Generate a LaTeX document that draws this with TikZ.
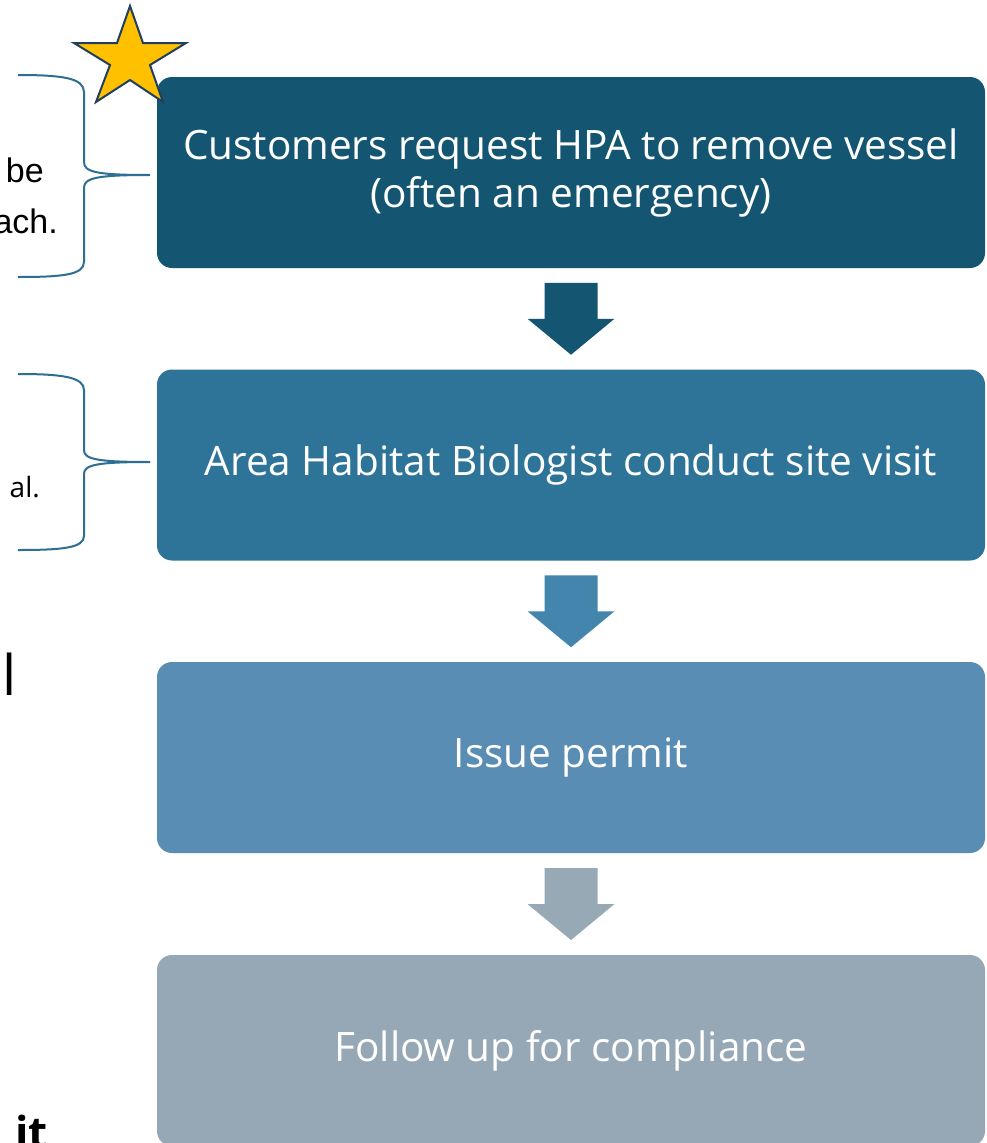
\documentclass[tikz,border=0pt]{standalone}
\usepackage{fontspec}
\setmainfont{Open Sans}
\newfontfamily\arialf{Liberation Sans}
\usetikzlibrary{calc}
\definecolor{cA}{HTML}{145672}
\definecolor{cB}{HTML}{2E7499}
\definecolor{cC}{HTML}{5A8DB4}
\definecolor{cD}{HTML}{96A7B5}
\definecolor{aB}{HTML}{4385AD}
\definecolor{aC}{HTML}{98A9B6}
\definecolor{braceC}{HTML}{2D6E92}
\definecolor{starF}{HTML}{FFC000}
\definecolor{starD}{HTML}{203F5F}
\tikzset{
  box/.style={rounded corners=15pt, minimum width=828pt, minimum height=191pt,
    inner sep=0pt, text=white, align=center, font=\fontsize{40.5}{48}\selectfont},
  downarr/.pic={\fill (-26.5,-36) -- (26.5,-36) -- (26.5,0) -- (43.5,0) -- (0,36)
     -- (-43.5,0) -- (-26.5,0) -- cycle;},
  bracepath/.style={draw=braceC, line width=2pt},
  sidetext/.style={anchor=base east, inner sep=0pt, text=black},
}
\begin{document}
\begin{tikzpicture}[x=1pt,y=-1pt]
\clip (0,0) rectangle (986,1143);
\fill[white] (0,0) rectangle (986,1143);

% boxes
\node[box, fill=cA] (b1) at (571,172.5) {Customers request HPA to remove vessel\\(often an emergency)};
\node[box, fill=cB] (b2) at (571,465) {Area Habitat Biologist conduct site visit};
\node[box, fill=cC] (b3) at (571,757.5) {Issue permit};
\node[box, fill=cD] (b4) at (571,1050.5) {Follow up for compliance};

% block arrows between boxes
\coordinate (m1) at ($(b1.south)!0.5!(b2.north)$);
\coordinate (m2) at ($(b2.south)!0.5!(b3.north)$);
\coordinate (m3) at ($(b3.south)!0.5!(b4.north)$);
\pic[color=cA] at (m1) {downarr};
\pic[color=aB] at (m2) {downarr};
\pic[color=aC] at (m3) {downarr};

% braces
\coordinate (tip1) at (150,175);
\coordinate (tip2) at (150,462);
\draw[bracepath] (18,75) .. controls (62,75) and (84,78) .. (84,92) -- (84,162)
  .. controls (84,172) and (96,175) .. (tip1)
  .. controls (96,175) and (84,178) .. (84,188) -- (84,262)
  .. controls (84,275) and (62,277) .. (18,277);
\draw[bracepath] (18,374) .. controls (62,374) and (84,377) .. (84,390) -- (84,450)
  .. controls (84,459) and (96,462) .. (tip2)
  .. controls (96,462) and (84,465) .. (84,474) -- (84,536)
  .. controls (84,548) and (62,550) .. (18,550);

% star
\filldraw[fill=starF, draw=starD, line width=2pt, line join=miter]
  (130,6) -- (143,43) -- (186,43) -- (150,65) -- (163,102) -- (130,80)
  -- (96,102) -- (110,65) -- (74,43) -- (117,43) -- cycle;

% partial side texts
\node[sidetext, font=\arialf\fontsize{34}{40}\selectfont] (s1) at (44,182) {be};
\node[sidetext, font=\arialf\fontsize{34}{40}\selectfont] (s2) at (58,233) {ach.};
\node[sidetext, font=\fontsize{28}{34}\selectfont] (s3) at (40,497) {al.};
\node[anchor=base west, inner sep=0pt, font=\fontsize{56}{64}\selectfont] (s4) at (2.5,695) {l};
\node[anchor=base west, inner sep=0pt, font=\bfseries\fontsize{44}{52}\selectfont] (s5) at (15,1148) {it};
\end{tikzpicture}
\end{document}
